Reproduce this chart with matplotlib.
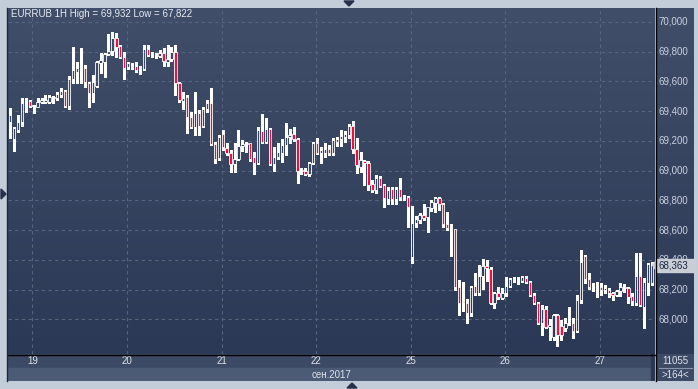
import numpy as np
import pandas as pd
import matplotlib
matplotlib.use('Agg')
import matplotlib.pyplot as plt
from matplotlib.patches import Rectangle, Polygon
from matplotlib.lines import Line2D
from matplotlib.colors import LinearSegmentedColormap
from matplotlib.transforms import blended_transform_factory

plt.rcParams['font.family'] = ['Liberation Sans', 'DejaVu Sans']

# EURRUB hourly candles, 18.09.2017 18:00 .. 27.09.2017 13:00
opens = [69327, 69213, 69273, 69327, 69462, 69469, 69435, 69430, 69462, 69464,
         69464, 69487, 69489, 69509, 69536, 69437, 69617, 69666, 69693, 69691,
         69592, 69524, 69570, 69722, 69733, 69783, 69805, 69890, 69839, 69767,
         69699, 69699, 69704, 69689, 69682, 69816, 69778, 69778, 69771, 69794,
         69733, 69749, 69800, 69592, 69471, 69495, 69363, 69292, 69390, 69300,
         69413, 69453, 69179, 69083, 69247, 69150, 69121, 69045, 69076, 69166,
         69181, 69184, 69090, 69050, 69269, 69195, 69278, 69045, 69090, 69117,
         69173, 69224, 69247, 69211, 69000, 69000, 68978, 69050, 69184, 69117,
         69117, 69144, 69121, 69195, 69211, 69228, 69240, 69302, 69144, 69027,
         69067, 69054, 68910, 68870, 68949, 68902, 68807, 68877, 68807, 68875,
         68821, 68825, 68417, 68650, 68668, 68702, 68686, 68747, 68780, 68814,
         68776, 68641, 68608, 68606, 68219, 68119, 68112, 68045, 68226, 68175,
         68293, 68359, 68336, 68108, 68179, 68141, 68175, 68224, 68268, 68270,
         68260, 68278, 68253, 68164, 68112, 67973, 68067, 67946, 67883, 68029,
         67955, 67940, 67973, 67977, 67923, 68130, 68426, 68269, 68215, 68213,
         68215, 68197, 68197, 68179, 68164, 68193, 68209, 68209, 68157, 68112,
         68292, 68085, 68246, 68244]
highs = [69421, 69294, 69374, 69489, 69489, 69475, 69442, 69489, 69489, 69509,
         69509, 69502, 69531, 69556, 69543, 69637, 69834, 69733, 69825, 69711,
         69598, 69644, 69740, 69789, 69789, 69920, 69932, 69925, 69845, 69800,
         69733, 69726, 69733, 69704, 69845, 69845, 69800, 69794, 69812, 69823,
         69845, 69834, 69845, 69598, 69531, 69509, 69397, 69531, 69408, 69426,
         69475, 69554, 69195, 69240, 69273, 69184, 69139, 69188, 69273, 69206,
         69195, 69188, 69128, 69296, 69381, 69352, 69285, 69161, 69188, 69211,
         69319, 69278, 69296, 69218, 69016, 69016, 69060, 69195, 69218, 69161,
         69188, 69173, 69218, 69224, 69273, 69269, 69314, 69334, 69218, 69128,
         69072, 69067, 68937, 68971, 68964, 68910, 68888, 68888, 68888, 68949,
         68836, 68830, 68762, 68695, 68717, 68776, 68758, 68803, 68821, 68821,
         68780, 68724, 68641, 68608, 68264, 68253, 68135, 68224, 68310, 68365,
         68404, 68399, 68350, 68186, 68215, 68209, 68283, 68276, 68283, 68287,
         68293, 68292, 68260, 68179, 68119, 68096, 68090, 68000, 68036, 68036,
         67995, 68007, 68085, 68007, 68164, 68466, 68433, 68310, 68242, 68253,
         68242, 68231, 68209, 68186, 68197, 68242, 68237, 68219, 68175, 68444,
         68444, 68276, 68377, 68386]
lows = [69220, 69132, 69260, 69300, 69395, 69428, 69388, 69428, 69455, 69455,
        69457, 69455, 69475, 69497, 69428, 69415, 69590, 69590, 69592, 69565,
        69428, 69464, 69563, 69655, 69632, 69778, 69778, 69767, 69758, 69617,
        69684, 69682, 69666, 69650, 69677, 69771, 69767, 69756, 69763, 69706,
        69704, 69740, 69509, 69464, 69415, 69255, 69285, 69240, 69240, 69292,
        69397, 69173, 69054, 69072, 69139, 69105, 68993, 68993, 69072, 69134,
        69128, 69067, 68978, 69045, 69184, 69184, 69038, 69000, 69076, 69060,
        69105, 69184, 69202, 68919, 68978, 68971, 68964, 69045, 69112, 69054,
        69094, 69105, 69105, 69166, 69166, 69195, 69218, 69121, 68982, 68993,
        68904, 68870, 68858, 68848, 68888, 68758, 68776, 68776, 68776, 68803,
        68803, 68623, 68377, 68623, 68646, 68668, 68589, 68731, 68724, 68735,
        68623, 68601, 68426, 68197, 68029, 68058, 67977, 68022, 68164, 68164,
        68202, 68260, 68103, 68074, 68135, 68135, 68157, 68219, 68253, 68237,
        68253, 68246, 68157, 68103, 67969, 67895, 67940, 67861, 67861, 67822,
        67861, 67923, 67962, 67872, 67917, 68112, 68242, 68202, 68193, 68148,
        68164, 68175, 68152, 68130, 68157, 68157, 68186, 68108, 68096, 68096,
        68090, 67940, 68164, 68231]
closes = [69374, 69287, 69327, 69455, 69469, 69435, 69438, 69464, 69475, 69475,
          69495, 69495, 69516, 69538, 69437, 69617, 69677, 69693, 69697, 69598,
          69524, 69598, 69733, 69744, 69783, 69805, 69890, 69834, 69767, 69693,
          69726, 69702, 69677, 69691, 69816, 69778, 69780, 69780, 69794, 69740,
          69749, 69800, 69592, 69475, 69487, 69363, 69292, 69390, 69300, 69413,
          69453, 69179, 69076, 69228, 69161, 69121, 69045, 69076, 69166, 69179,
          69184, 69076, 69050, 69273, 69195, 69278, 69045, 69090, 69128, 69173,
          69224, 69240, 69211, 69000, 69002, 68978, 69050, 69184, 69121, 69139,
          69144, 69121, 69206, 69211, 69233, 69247, 69302, 69144, 69038, 69072,
          69050, 68904, 68870, 68949, 68897, 68814, 68870, 68807, 68875, 68821,
          68830, 68754, 68650, 68673, 68702, 68684, 68754, 68791, 68814, 68776,
          68641, 68612, 68606, 68219, 68112, 68116, 68045, 68219, 68175, 68293,
          68359, 68343, 68108, 68179, 68148, 68175, 68224, 68269, 68269, 68271,
          68283, 68253, 68164, 68112, 67973, 68067, 67950, 67962, 68029, 67895,
          67895, 67973, 67984, 67923, 68130, 68388, 68269, 68219, 68224, 68219,
          68197, 68209, 68179, 68164, 68193, 68219, 68219, 68148, 68125, 68292,
          68096, 68253, 68372, 68363]

price_levels = [68000, 68200, 68400, 68600, 68800, 69000, 69200, 69400, 69600, 69800, 70000]
bar_count = "11055"
visible_bars = ">164<"
month_label = "сен.2017"

o = np.array(opens, float); h = np.array(highs, float)
l = np.array(lows, float); c = np.array(closes, float)
n = len(o)

times = pd.date_range('2017-09-18 18:00', '2017-09-27 13:00', freq='h')
times = times[times.dayofweek < 5]
day_pos = [i for i, t in enumerate(times) if t.hour == 0]
day_lab = [str(times[i].day) for i in day_pos]

W, H = 698, 389
def px(x0, y0, x1, y1):
    return [x0 / W, 1 - y1 / H, (x1 - x0) / W, (y1 - y0) / H]

fig = plt.figure(figsize=(W / 100, H / 100), dpi=100, facecolor='#c3cdda')
grad = LinearSegmentedColormap.from_list('g', ['#404e69', '#2b3956'])

def gradient(a):
    a.imshow(np.linspace(0, 1, 256).reshape(-1, 1), cmap=grad, aspect='auto',
             extent=[0, 1, 0, 1], transform=a.transAxes, zorder=0)

ylim = (67767, 70094)
xlim = (-0.51, n - 1 + 0.76)

ax = fig.add_axes(px(8, 8, 655, 354))
gradient(ax)
ax.set_xlim(*xlim); ax.set_ylim(*ylim)
ax.set_yticks(price_levels)
ax.set_xticks(np.array(day_pos) - 0.3)
ax.grid(True, color='#56647f', linestyle=(0, (3, 3)), linewidth=0.8, zorder=1)
ax.tick_params(length=0, labelbottom=False, labelleft=False)
for s in ax.spines.values():
    s.set_visible(False)

x = np.arange(n)
up = c >= o
lo = np.minimum(o, c); hi = np.maximum(o, c)
hgt = np.maximum(hi - lo, 5)
ax.vlines(x, hi, h, colors='white', linewidth=1, zorder=2, antialiased=False)
ax.vlines(x, l, lo, colors='white', linewidth=1, zorder=2, antialiased=False)
ax.bar(x[up], hgt[up], bottom=lo[up], width=0.6, color='none',
       edgecolor='white', linewidth=0.6, zorder=3)
ax.bar(x[~up], hgt[~up], bottom=lo[~up], width=0.6, color='#ec0f40',
       edgecolor='white', linewidth=0.6, zorder=3)

title = "EURRUB 1H High = {} Low = {}".format(
    f"{h.max() / 1000:.3f}".replace('.', ','), f"{l.min() / 1000:.3f}".replace('.', ','))
ax.text(0.0046, 0.983, title, transform=ax.transAxes, color='#e8ecf3',
        fontsize=7, va='center', ha='left', zorder=5)

# right price scale
axr = fig.add_axes(px(656, 8, 694, 354))
gradient(axr)
axr.set_xlim(0, 1); axr.set_ylim(*ylim)
axr.axis('off')
for v in price_levels:
    axr.text(0.06, v, f"{v / 1000:.3f}".replace('.', ','), color='#c9d1e0',
             fontsize=7, va='center', ha='left', zorder=2)
tr = blended_transform_factory(axr.transAxes, axr.transData)
last = c[-1]
axr.add_patch(Rectangle((0.03, last - 45), 1.0, 90, transform=tr, color='#c9ced6',
                        clip_on=False, zorder=4))
axr.add_patch(Polygon([(-0.09, last), (0.03, last + 40), (0.03, last - 40)], closed=True,
                      transform=tr, color='#c9ced6', clip_on=False, zorder=4))
axr.text(0.06, last, f"{last / 1000:.3f}".replace('.', ','), color='#1c2640',
         fontsize=7, va='center', ha='left', zorder=5)

# bottom time scale
axb = fig.add_axes(px(8, 354, 655, 381))
axb.set_xlim(*xlim); axb.set_ylim(27, 0)
axb.axis('off')
axb.axhspan(0, 14, color='#3c4a65', zorder=0)
axb.axhspan(14, 27, color='#4b5a75', zorder=0)
axb.axvspan(n - 1.2, n + 1, color='#2c3852', zorder=1)
for p, t in zip(day_pos, day_lab):
    axb.text(p - 0.3, 7.5, t, color='#dfe4ec', fontsize=7, ha='center', va='center')
axb.text(0.5, 20.5, month_label, transform=blended_transform_factory(axb.transAxes, axb.transData),
         color='#dfe4ec', fontsize=7, ha='center', va='center')

axc = fig.add_axes(px(656, 354, 694, 381))
axc.set_xlim(0, 1); axc.set_ylim(27, 0)
axc.axis('off')
axc.axhspan(0, 27, color='#3c4a65', zorder=0)
axc.plot([0.08, 0.95], [14, 14], color='#8995aa', linewidth=0.8)
axc.text(0.5, 7.5, bar_count, color='#dfe4ec', fontsize=7, ha='center', va='center')
axc.text(0.5, 20.5, visible_bars, color='#dfe4ec', fontsize=7, ha='center', va='center')

# frame lines and small arrows
fig.add_artist(Line2D([655.5 / W] * 2, [1 - 381 / H, 1 - 8 / H], color='black', linewidth=1))
fig.add_artist(Line2D([8 / W, 655.5 / W], [1 - 354.5 / H] * 2, color='black', linewidth=1))
fig.add_artist(Line2D([7.5 / W] * 2, [1 - 381 / H, 1 - 8 / H], color='#1e2740', linewidth=1))
arrow = '#26304a'
fig.add_artist(Polygon([(344 / W, 1 - 1 / H), (354 / W, 1 - 1 / H), (349 / W, 1 - 6 / H)],
                       closed=True, color=arrow))
fig.add_artist(Polygon([(1 / W, 1 - 189 / H), (1 / W, 1 - 199 / H), (6 / W, 1 - 194 / H)],
                       closed=True, color=arrow))
fig.add_artist(Polygon([(347 / W, 1 - 388 / H), (357 / W, 1 - 388 / H), (352 / W, 1 - 383 / H)],
                       closed=True, color=arrow))

fig.savefig('out.png', dpi=100, facecolor=fig.get_facecolor())
